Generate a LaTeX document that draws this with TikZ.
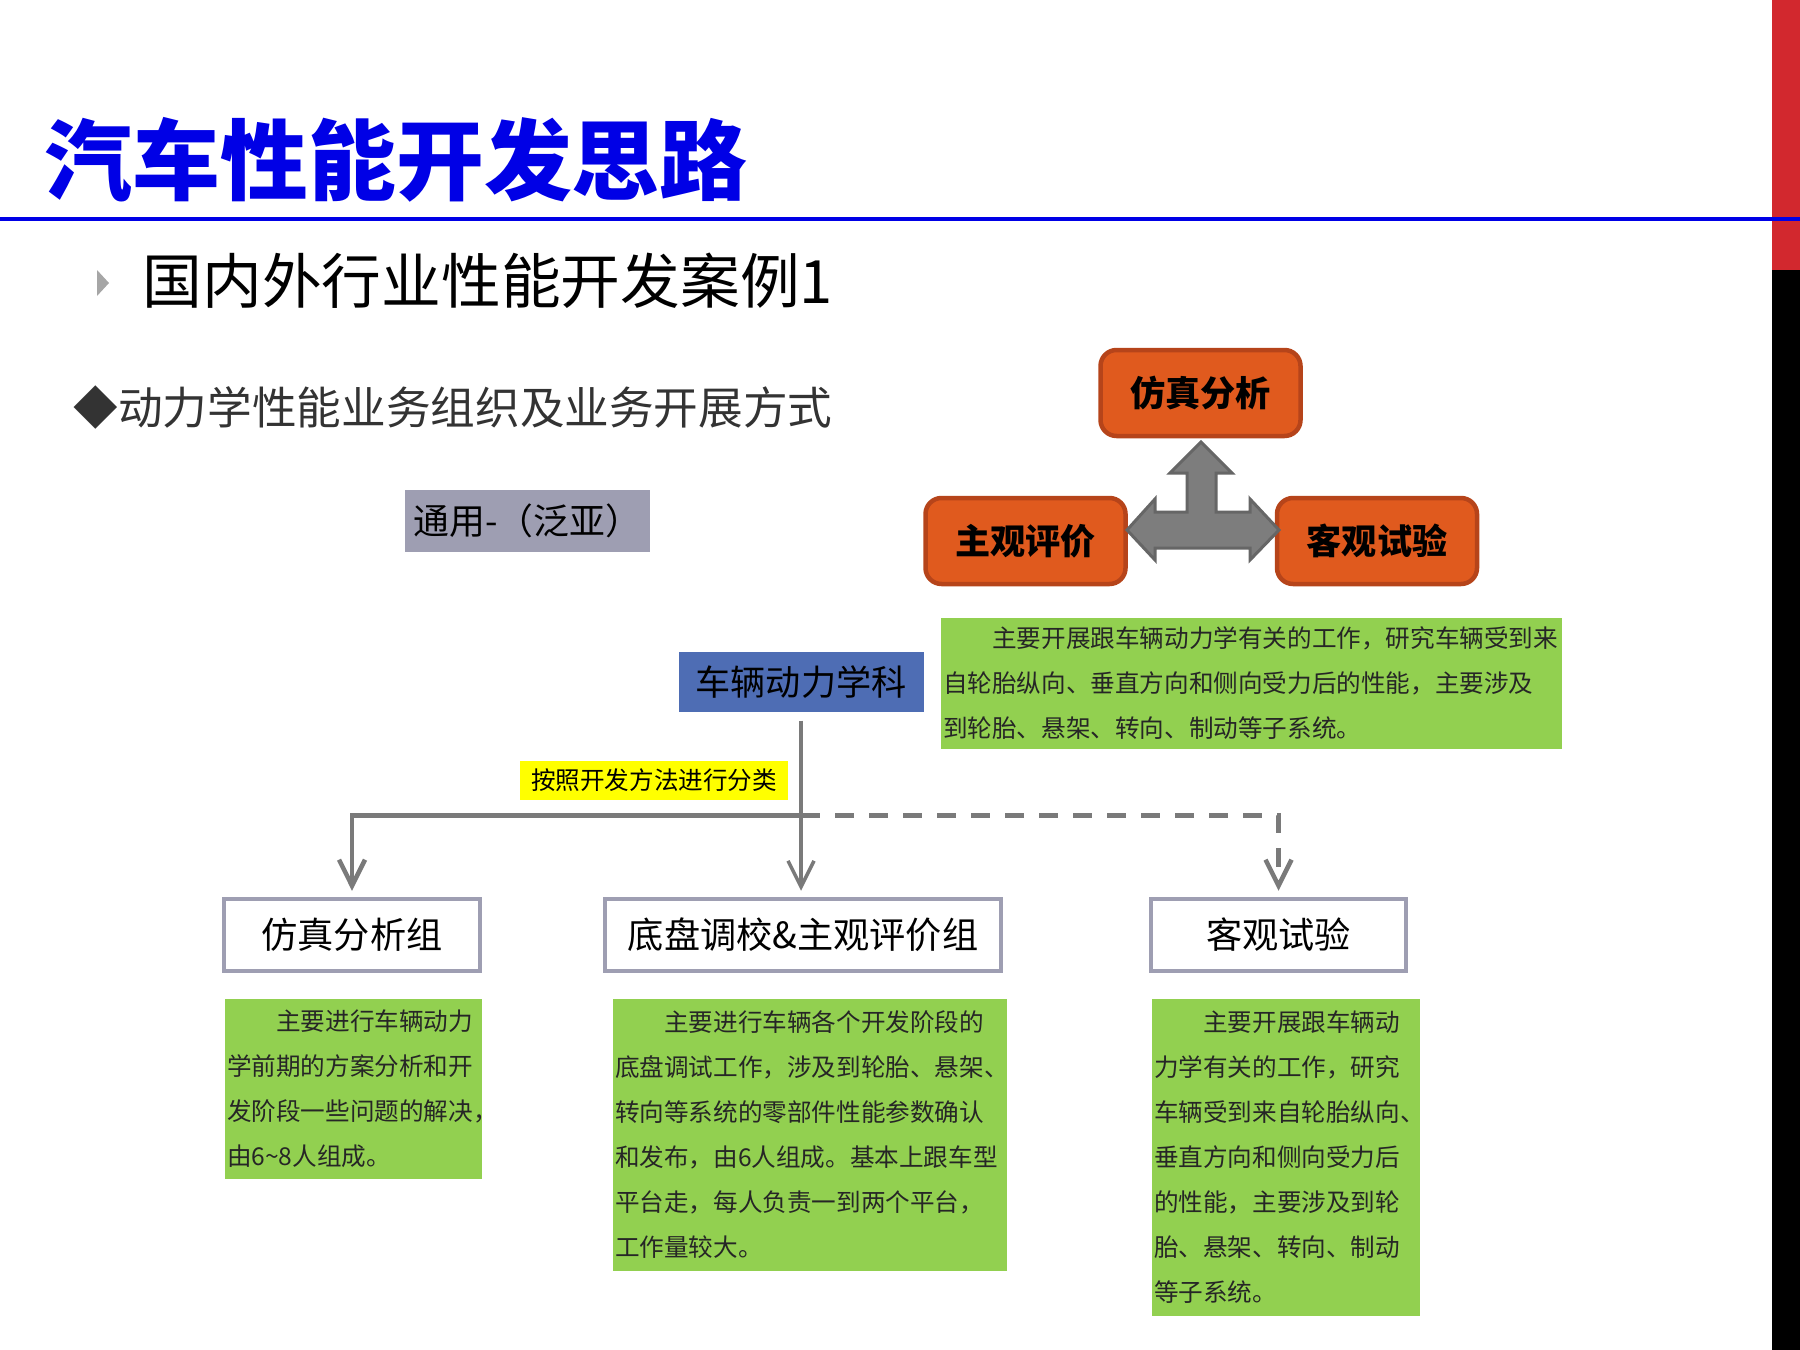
\documentclass[tikz,border=0pt]{standalone}
\usepackage{fontspec}
\setmainfont{Noto Sans CJK SC}
\usetikzlibrary{positioning,calc,arrows.meta}
\definecolor{titleblue}{RGB}{0,0,230}
\definecolor{stripred}{RGB}{210,40,46}
\definecolor{boxorange}{RGB}{224,90,30}
\definecolor{edgeorange}{RGB}{182,68,26}
\definecolor{leafgreen}{RGB}{146,208,80}
\definecolor{headblue}{RGB}{78,109,180}
\definecolor{tagyellow}{RGB}{255,255,0}
\definecolor{boxgray}{RGB}{158,158,178}
\definecolor{linegray}{RGB}{122,122,122}
\definecolor{arrowgray}{RGB}{125,125,125}
\begin{document}
\begin{tikzpicture}[x=0.1mm,y=-0.1mm,>={Straight Barb[length=2.6mm,width=2.6mm]},
  orangebox/.style={draw=edgeorange,line width=0.45mm,fill=boxorange,rounded corners=1.6mm,
                    minimum width=20mm,minimum height=8.6mm,font=\fontsize{10}{12}\selectfont\bfseries},
  whitebox/.style={draw=boxgray,line width=0.45mm,fill=white,minimum height=7.2mm,
                   font=\fontsize{10.3}{12}\selectfont},
  greenbox/.style={fill=leafgreen,inner xsep=0.2mm,inner ysep=0pt,align=left,text=black!85,
                   font=\fontsize{7}{12.8}\selectfont},
  link/.style={draw=linegray,line width=0.35mm}]

\useasboundingbox (0,0) rectangle (1800,1350);

\fill[stripred] (1772,0) rectangle (1800,270);
\fill[black] (1772,270) rectangle (1800,1350);
\draw[titleblue,line width=0.45mm] (0,219) -- (1800,219);

\node[anchor=west,inner sep=0pt,text=titleblue,font=\fontsize{25}{30}\selectfont\bfseries] (title) at (44,160) {汽车性能开发思路};
\fill[gray!70] (97,270) -- (109,283) -- (97,296) -- cycle;
\node[anchor=west,inner sep=0pt,font=\fontsize{17}{21}\selectfont] (case) at (142,281) {国内外行业性能开发案例1};
\node[anchor=west,inner sep=0pt,text=black!80,font=\fontsize{12.7}{15}\selectfont] (topic) at (73,408) {◆动力学性能业务组织及业务开展方式};
\node[fill=boxgray,minimum width=24.5mm,minimum height=6.2mm,inner sep=0pt,font=\fontsize{10.2}{12}\selectfont] (gm) at (527.5,521) {通用-（泛亚）};

\node[orangebox] (simu) at (1200.5,393) {仿真分析};
\node[orangebox] (subj) at (1025.5,541) {主观评价};
\node[orangebox] (test) at (1377,541) {客观试验};

\filldraw[fill=arrowgray,draw=black!60,line width=0.3mm]
  (1201,442) -- (1232,473) -- (1216,473) -- (1216,512) -- (1250,512) -- (1250,499)
  -- (1279,530) -- (1250,560) -- (1250,548) -- (1155,548) -- (1155,560) -- (1127,530)
  -- (1155,499) -- (1155,512) -- (1187,512) -- (1187,473) -- (1170,473) -- cycle;

\node[greenbox,text width=61.7mm,minimum height=13.1mm] (dyntext) at (1251.5,683.5)
  {\hspace*{2em}主要开展跟车辆动力学有关的工作，研究车辆受到来\\
   自轮胎纵向、垂直方向和侧向受力后的性能，主要涉及\\
   到轮胎、悬架、转向、制动等子系统。};

\node[fill=headblue,minimum width=24.5mm,minimum height=6mm,inner sep=0pt,font=\fontsize{10}{12}\selectfont] (dyn) at (801,682) {车辆动力学科};
\node[fill=tagyellow,minimum width=26.8mm,minimum height=3.9mm,inner sep=0pt,font=\fontsize{7}{8}\selectfont] (tag) at (654,780.5) {按照开发方法进行分类};

\node[whitebox,minimum width=25.6mm] (simg)  at (352,935)    {仿真分析组};
\node[whitebox,minimum width=39.6mm] (chas)  at (803,935)    {底盘调校\&主观评价组};
\node[whitebox,minimum width=25.5mm] (testg) at (1278.5,935) {客观试验};

\node[greenbox,text width=25.3mm,minimum height=18mm] (simtext) at (353.5,1089)
  {\hspace*{2em}主要进行车辆动力\\
   学前期的方案分析和开\\
   发阶段一些问题的解决，\\
   由6\textasciitilde8人组成。};
\node[greenbox,text width=39mm,minimum height=27.2mm] (chastext) at (810,1135)
  {\hspace*{2em}主要进行车辆各个开发阶段的\\
   底盘调试工作，涉及到轮胎、悬架、\\
   转向等系统的零部件性能参数确认\\
   和发布，由6人组成。基本上跟车型\\
   平台走，每人负责一到两个平台，\\
   工作量较大。};
\node[greenbox,text width=26.4mm,minimum height=31.7mm] (testtext) at (1286,1157.5)
  {\hspace*{2em}主要开展跟车辆动\\
   力学有关的工作，研究\\
   车辆受到来自轮胎纵向、\\
   垂直方向和侧向受力后\\
   的性能，主要涉及到轮\\
   胎、悬架、转向、制动\\
   等子系统。};

\coordinate (split) at ($(dyn.south)+(0,103)$);
\draw[link,->,line width=0.45mm,shorten >=0.6mm] (split) -| (simg.north);
\draw[link,->,shorten <=0.8mm,shorten >=0.6mm] (dyn.south) -- (dyn.south |- chas.north);
\draw[link,->,line width=0.45mm,dash pattern=on 1.9mm off 1.5mm,shorten >=0.6mm] (split) -| (testg.north);
\end{tikzpicture}
\end{document}
